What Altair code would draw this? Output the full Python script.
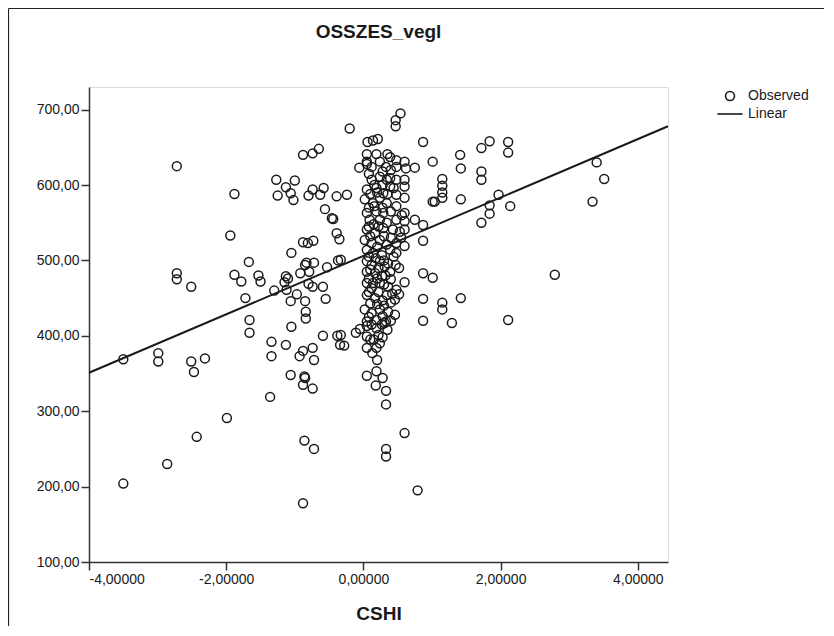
import altair as alt
import pandas as pd

# ---- observed points (CSHI, OSSZES_vegl) ----
left_x = [-3.50, -3.50, -2.99, -2.99, -2.72, -2.72, -2.72, -2.51, -2.51, -2.47, -2.31, -2.43, -2.86,
          -1.99, -1.88, -1.94, -1.67, -1.88, -1.78, -1.72, -1.66, -1.66, -1.53, -1.50, -1.36, -1.34,
          -1.34, -1.30, -1.27, -1.25, -1.13, -1.06, -1.02, -1.00, -1.13, -1.10, -1.15, -1.12, -1.05,
          -1.06, -0.97, -1.05, -1.13, -1.06, -0.93, -0.88, -0.74, -0.72, -0.86, -0.85, -0.88, -0.74,
          -0.86, -0.72, -0.88, -0.88, -0.74, -0.65, -0.80, -0.74, -0.63, -0.58, -0.56, -0.46, -0.44,
          -0.39, -0.39, -0.35, -0.88, -0.81, -0.73, -0.83, -0.85, -0.72, -0.92, -0.79, -0.80, -0.74,
          -0.59, -0.55, -0.53, -0.85, -0.84, -0.84, -0.59, -0.38, -0.34, -0.37, -0.24, -0.20, -0.33,
          -0.28, -0.11, -0.33, -0.06, -0.05]
left_y = [204, 369, 377, 366, 625, 483, 475, 465, 366, 352, 370, 266, 230,
          291, 588, 533, 498, 481, 472, 450, 421, 404, 480, 472, 319, 392,
          373, 460, 607, 586, 597, 589, 580, 606, 479, 476, 471, 461, 510,
          446, 455, 412, 388, 348, 373, 380, 384, 368, 346, 344, 335, 330,
          261, 250, 178, 640, 642, 648, 586, 594, 587, 596, 568, 556, 555,
          585, 536, 528, 524, 523, 526, 497, 494, 497, 483, 485, 469, 465,
          465, 449, 491, 446, 432, 423, 400, 400, 388, 500, 587, 675, 401,
          387, 404, 501, 623, 409]

right_x = [0.54, 0.47, 0.47, 0.06, 0.14, 0.21, 0.87, 1.41, 1.42, 1.72, 1.84, 1.72, 1.72, 1.97,
           1.84, 1.84, 1.72, 2.14, 2.11, 2.11, 3.40, 3.51, 3.34, 2.79, 2.11, 1.01, 1.15, 1.15,
           1.15, 1.15, 1.01, 1.04, 1.42, 0.75, 0.87, 0.87, 0.60, 0.60, 0.75, 0.47, 0.60, 0.87,
           1.01, 0.87, 1.15, 1.15, 1.42, 0.87, 1.29, 0.60, 0.33, 0.33, 0.79]
right_y = [695, 686, 678, 657, 659, 661, 657, 640, 622, 649, 658, 618, 607, 587,
           573, 562, 550, 572, 657, 643, 630, 608, 578, 481, 421, 631, 608, 599,
           590, 583, 578, 578, 581, 623, 547, 526, 563, 552, 554, 494, 471, 483,
           477, 449, 444, 435, 450, 420, 417, 271, 250, 240, 195]

col_x = [0.05, 0.19, 0.35, 0.39, 0.48, 0.60, 0.05, 0.12, 0.24, 0.33, 0.48, 0.62, 0.05,
         0.12, 0.24, 0.39, 0.48, 0.60, 0.60, 0.34, 0.05, 0.19, 0.29, 0.39, 0.48, 0.60,
         0.02, 0.14, 0.24, 0.34, 0.48, 0.19, 0.29, 0.05, 0.09, 0.24, 0.34, 0.48,
         0.05, 0.17, 0.29, 0.43, 0.53, 0.60, 0.02, 0.12, 0.24, 0.34, 0.48, 0.60,
         0.05, 0.14, 0.27, 0.39, 0.48, 0.05, 0.12, 0.24, 0.31, 0.05, 0.17, 0.27, 0.39,
         0.05, 0.12, 0.24, 0.36, 0.48, 0.05, 0.17, 0.34, 0.46, 0.02, 0.12, 0.24, 0.36, 0.46,
         0.05, 0.19, 0.31, 0.05, 0.12, 0.19, 0.27, 0.35, 0.05, 0.22, 0.15, 0.24, 0.05, 0.19,
         0.13, 0.20, 0.05, 0.19, 0.28, 0.18, 0.33, 0.33, 0.33,
         0.08, 0.15, 0.22, 0.30, 0.10, 0.20, 0.08, 0.18, 0.30, 0.36, 0.10, 0.22, 0.32, 0.08,
         0.20, 0.14, 0.30, 0.08, 0.22, 0.28, 0.10, 0.20, 0.30, 0.40, 0.08, 0.16, 0.28, 0.40,
         0.10, 0.20, 0.35, 0.08, 0.28, 0.40, 0.16, 0.28, 0.44, 0.40, 0.44, 0.40, 0.42, 0.52,
         0.55, 0.56, 0.10, 0.28, 0.08, 0.28, 0.40, 0.52]
col_y = [641, 641, 641, 637, 633, 631, 631, 624, 631, 624, 624, 622, 628,
         607, 611, 609, 607, 607, 598, 607, 594, 596, 589, 598, 587, 583,
         581, 576, 583, 576, 572, 565, 563, 563, 554, 554, 550, 554,
         541, 536, 543, 541, 538, 541, 527, 523, 527, 521, 523, 519,
         514, 510, 507, 514, 510, 499, 494, 499, 492, 485, 483, 479, 485,
         470, 463, 470, 465, 461, 454, 450, 454, 448, 435, 430, 435, 432, 428,
         419, 421, 417, 413, 415, 410, 415, 408, 399, 401, 395, 390, 384, 384,
         377, 368, 347, 353, 344, 334, 327, 309, 419,
         545, 548, 545, 532, 532, 518, 505, 503, 500, 496, 488, 490, 480, 476,
         476, 470, 468, 458, 458, 447, 443, 442, 440, 444, 570, 572, 570, 565,
         588, 590, 588, 615, 618, 620, 600, 600, 596, 530, 505, 475, 456, 490,
         530, 560, 395, 398, 425, 426, 420, 455]

# ---- linear fit line, read at the two ends of the plot ----
fit_x = [-4.0, 4.44]
fit_y = [351.0, 678.0]

# ---- axis ticks ----
x_ticks = [-4, -2, 0, 2, 4]
y_ticks = [100, 200, 300, 400, 500, 600, 700]
series = ["Observed", "Linear"]

obs = pd.DataFrame({
    "CSHI": left_x + right_x + col_x,
    "OSSZES_vegl": left_y + right_y + col_y,
})
obs["type"] = "Observed"
fit = pd.DataFrame({"CSHI": fit_x, "OSSZES_vegl": fit_y})
one = pd.DataFrame({"a": [0]})

W, H = 579, 475
PAD = {"left": 81, "top": 79, "right": 156, "bottom": 64}
FONT = "Liberation Sans"
INK = "#1a1a1a"

xscale = alt.Scale(domain=[-4, 4.44], nice=False, zero=False)
yscale = alt.Scale(domain=[100, 730], nice=False, zero=False)

xaxis = alt.Axis(values=x_ticks, format=".5f", title="CSHI", grid=False,
                 labelFont=FONT, labelFontSize=14, labelColor=INK,
                 titleFont=FONT, titleFontSize=19, titleFontWeight="bold", titleColor=INK,
                 titlePadding=18, tickSize=8, tickColor="#333", tickWidth=1.5,
                 domainColor="#333", domainWidth=1.5, labelPadding=2)
yaxis = alt.Axis(values=y_ticks, format=".2f", title=None, grid=False,
                 labelFont=FONT, labelFontSize=14, labelColor=INK,
                 tickSize=8, tickColor="#333", tickWidth=1.5,
                 domainColor="#333", domainWidth=1.5, labelPadding=2)

legend = alt.Legend(title=None, orient="none", legendX=631, legendY=2,
                    labelFont=FONT, labelFontSize=14, labelColor=INK, labelOffset=8,
                    symbolStrokeColor=INK, symbolFillColor="transparent",
                    symbolStrokeWidth=1.6, symbolOpacity=1, rowPadding=0)

points = alt.Chart(obs).mark_point(filled=False, stroke=INK, strokeWidth=1.5, opacity=1).encode(
    x=alt.X("CSHI:Q", scale=xscale, axis=xaxis),
    y=alt.Y("OSSZES_vegl:Q", scale=yscale, axis=yaxis),
    shape=alt.Shape("type:N", scale=alt.Scale(domain=series, range=["circle", "M-1.4,0H1.4"]),
                    legend=legend),
    size=alt.Size("type:N", scale=alt.Scale(domain=series, range=[80, 324]), legend=legend),
)

line = alt.Chart(fit).mark_line(color=INK, strokeWidth=2).encode(
    x=alt.X("CSHI:Q", scale=xscale),
    y=alt.Y("OSSZES_vegl:Q", scale=yscale),
)

frame_left = alt.Chart(one).mark_rule(color="#222", strokeWidth=1.2).encode(
    x=alt.value(-80.5), y=alt.value(-78.5), y2=alt.value(H + PAD["bottom"]))
frame_top = alt.Chart(one).mark_rule(color="#222", strokeWidth=1.2).encode(
    x=alt.value(-80.5), x2=alt.value(W + PAD["right"]), y=alt.value(-78.5))

chart = alt.layer(frame_left, frame_top, points, line).properties(
    width=W, height=H,
    title=alt.TitleParams("OSSZES_vegl", font=FONT, fontSize=19, fontWeight="bold",
                          color=INK, anchor="middle", offset=0, baseline="alphabetic", dy=49),
    padding=PAD,
    autosize=alt.AutoSizeParams(type="none"),
).configure_view(
    fill="#f0f0f0", stroke="#555", strokeWidth=1.5
).configure(
    background="white",
    locale={"number": {"decimal": ",", "thousands": ".", "grouping": [3],
                       "currency": ["", ""], "minus": "-"}},
)

chart.save("out.html", embed_options={"renderer": "svg", "actions": False})
